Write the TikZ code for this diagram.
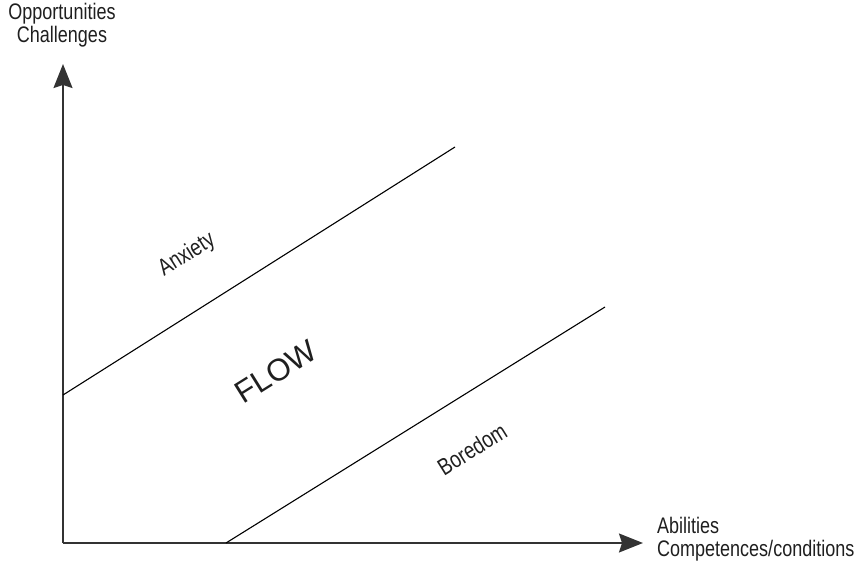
\documentclass[tikz,border=0pt]{standalone}
\usepackage{fontspec}
\setmainfont{Liberation Sans}[FakeStretch=0.8]
\newfontfamily\flowfont{Liberation Sans}
\usetikzlibrary{arrows.meta}
\tikzset{
  axis/.style={line width=1.6pt, draw=black!80, -{Stealth[length=24pt,width=19pt,inset=3pt]}},
  zone/.style={line width=1.1pt, draw=black},
  lbl/.style={text=black!88, font=\fontsize{22.5}{23}\selectfont, inner sep=0pt},
  zonelbl/.style={text=black!88, font=\fontsize{23.5}{24}\selectfont, rotate=32, inner sep=0pt},
}
\begin{document}
\begin{tikzpicture}[x=1pt,y=-1pt]
\useasboundingbox (0,0) rectangle (863,569);
% axes
\coordinate (o) at (63,543);
\coordinate (ytip) at (63,64);
\coordinate (xtip) at (643,543);
\draw[axis] (o) -- (ytip);
\draw[axis] (o) -- (xtip);
% zone boundaries
\coordinate (a1) at (63,395);
\coordinate (a2) at (455,147);
\coordinate (b1) at (226,543);
\coordinate (b2) at (605,307);
\draw[zone] (a1) -- (a2);
\draw[zone] (b1) -- (b2);
% axis labels
\node[lbl, align=center] (ylab) at (62,25) {Opportunities\\Challenges};
\node[lbl, align=left, anchor=west] (xlab) at (657,539) {Abilities\\Competences/conditions};
% zone labels
\node[zonelbl] (anx) at (187,255) {Anxiety};
\node[zonelbl] (bor) at (472,449) {Boredom};
\node[text=black!88, font=\flowfont\fontsize{31}{34}\selectfont, rotate=32, inner sep=0pt] (flow) at (276,372) {FLOW};
\end{tikzpicture}
\end{document}
